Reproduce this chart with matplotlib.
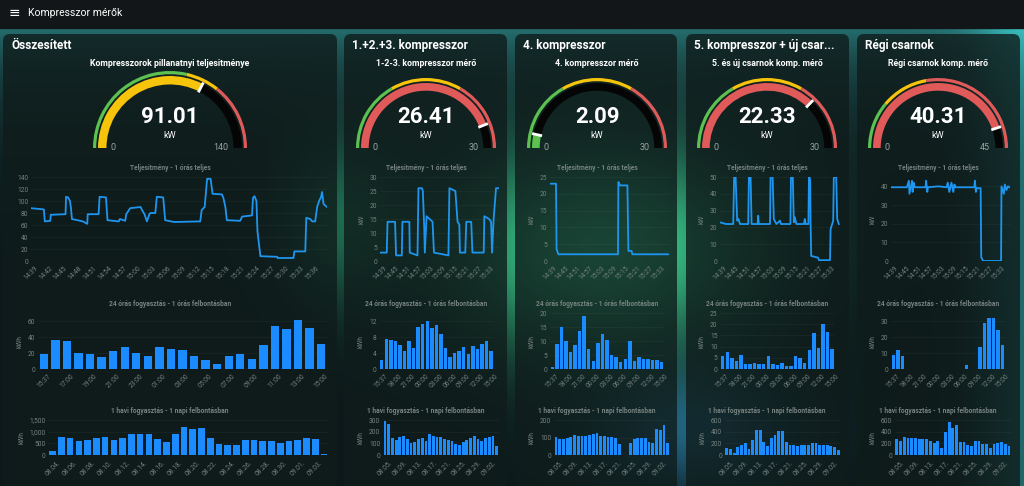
import numpy as np
import matplotlib.pyplot as plt
from matplotlib.patches import Wedge, FancyBboxPatch, Rectangle

plt.rcParams['font.family'] = ['Roboto', 'DejaVu Sans']

W, H = 1024, 486

# ---------------- data ----------------
page_title = 'Kompresszor mérők'
card_titles = ['Összesített', '1.+2.+3. kompresszor', '4. kompresszor',
               '5. kompresszor + új csar...', 'Régi csarnok']
gauge_titles = ['Kompresszorok pillanatnyi teljesitménye', '1-2-3. kompresszor mérő',
                '4. kompresszor mérő', '5. és új csarnok komp. mérő', 'Régi csarnok komp. mérő']
gauge_values = [91.01, 26.41, 2.09, 22.33, 40.31]
gauge_max = [140, 30, 30, 30, 45]
gauge_green_to = [80, 10, 10, 10, 10]
gauge_yellow_to = [100, 20, 20, 20, 20]

line_title = 'Teljesitmény - 1 órás teljes'
day_title = '24 órás fogyasztás - 1 órás felbontásban'
month_title = '1 havi fogyasztás - 1 napi felbontásban'

# power, last hour (minutes after 14:39, kW)
p1_t = [0, 2.6, 2.8, 3.9, 4.0, 7.0, 7.1, 7.5, 7.9, 8.1, 8.3, 10.5, 11.4, 11.5, 13.7, 13.9, 15.2,
        15.5, 17.8, 18.0, 19.1, 19.3, 20.1, 22.2, 22.5, 23.0, 23.5, 24.0, 24.2, 25.2, 25.5, 26.8,
        27.2, 29.0, 34.3, 34.6, 35.2, 35.7, 36.4, 36.8, 38.7, 39.0, 39.4, 39.7, 42.4, 42.8, 44.8,
        45.0, 45.3, 45.7, 45.9, 46.5, 49.9, 50.0, 53.2, 53.4, 55.6, 55.8, 56.6, 57.0, 57.6, 58.0,
        58.4, 58.8, 59.0, 59.3, 60.0]
p1_v = [88, 86, 66, 67, 77, 78, 107, 106, 100, 88, 70, 66, 62, 78, 78, 107, 106,
        68, 66, 70, 67, 78, 88, 90, 85, 78, 66, 78, 80, 80, 107, 106,
        68, 65, 66, 85, 90, 137, 137, 112, 111, 105, 90, 68, 67, 74, 76,
        105, 108, 100, 50, 8, 7, 5, 5, 16, 16, 72, 70, 66, 66, 90,
        100, 107, 115, 95, 90]
p2_t = [0, 3.4, 3.8, 7.6, 8.1, 11.0, 11.3, 14.8, 15.0, 18.9, 19.4, 21.1, 21.6, 22.3, 22.6, 23.5,
        25.0, 26.5, 27.2, 34.5, 35.0, 38.0, 39.1, 40.0, 40.3, 43.0, 43.5, 46.0, 46.6, 52.3, 52.6,
        55.0, 56.0, 56.5, 57.3, 58.5, 60.0]
p2_v = [3, 3, 14, 14, 2, 2, 14, 14, 3, 2, 26, 26, 25, 12, 3, 16,
        15, 14, 3, 2, 26, 25, 14, 13, 3, 3, 14, 14, 3, 3, 16,
        15, 14, 3, 15, 26, 26]
p3_t = [0, 3.0, 3.3, 4.2, 34.0, 34.2, 35.0, 38.7, 39.2, 40.8, 41.2, 59.0]
p3_v = [23, 23, 3.5, 2, 2, 23.5, 22.5, 22.5, 3, 3, 2, 2]
p4_t = [0, 3, 6.6, 7.1, 7.8, 8.6, 9.2, 10, 14.1, 14.5, 15.3, 15.8, 18.8, 19.1, 19.4, 25.0, 25.3,
        26.3, 26.9, 28.2, 30.0, 30.5, 35.2, 35.5, 36.4, 36.9, 37.4, 38.2, 42.0, 42.4, 42.8, 44.2,
        44.5, 45.1, 45.3, 45.6, 49.0, 49.5, 55.0, 55.3, 56.6, 56.9, 58.1, 58.6, 59.4]
p4_v = [23, 22, 22, 53, 50, 24, 25, 22, 22, 53, 50, 22, 22, 27, 22, 22, 52,
        50, 25, 22, 24, 22, 22, 51, 50, 23, 26, 22, 22, 25, 22, 22,
        52, 48, 22, 3, 2, 0.5, 0.5, 19, 24, 50, 50, 25, 22]
p5_t = [0, 8, 9.0, 9.3, 10.6, 10.9, 11.4, 12, 17.4, 17.7, 18.3, 18.6, 24, 28, 28.6, 29.4, 30.5,
        31.4, 32, 32.5, 42, 42.3, 42.8, 43.2, 45.2, 45.5, 46.5, 55.5, 55.7, 56.9, 57.4, 58.2,
        59.0, 59.9]
p5_v = [39.5, 39.5, 43, 36, 43, 37, 42, 39.5, 39.5, 43, 37, 39.5, 40, 39.5, 42, 37, 42,
        37, 41, 39.5, 39.5, 43, 37, 39, 39, 2, 0, 0, 40, 36, 41, 38,
        40, 39.5]

# 24 hour consumption (kWh)
d1 = [18.2, 36.4, 35.6, 20.3, 18.2, 15.3, 22.8, 27.3, 19.9, 16.1, 26.9, 25.2, 23.2, 16.5, 11.2,
      6.6, 16.5, 19.0, 12.0, 30.2, 53.8, 49.6, 61.2, 51.3, 31.0]
d2 = [2.3, 7.5, 7.3, 6.9, 5.9, 4.6, 6.9, 5.2, 10.6, 11.2, 12.0, 10.3, 11.0, 8.7, 5.2,
      3.0, 4.1, 4.6, 5.6, 3.8, 5.8, 5.0, 6.3, 6.9, 4.4]
d3 = [0.8, 8.9, 15.1, 10.0, 5.9, 8.6, 13.5, 18.8, 7.1, 2.9, 9.4, 12.6, 10.4, 4.9, 4.2,
      2.6, 3.6, 10.0, 2.9, 4.4, 3.4, 3.4, 3.1, 3.1, 2.4]
d4 = [6.0, 7.6, 4.9, 3.4, 6.3, 2.2, 2.2, 2.9, 2.2, 2.2, 5.9, 2.4, 1.8, 2.6, 1.5,
      1.5, 6.0, 4.7, 2.9, 8.5, 15.9, 9.3, 20.0, 16.3, 9.0]
d5 = [8.9, 11.8, 8.3, 0, 0, 0, 0, 0, 0, 0, 0, 0, 0, 0, 0,
      0, 2.5, 0, 0, 13.7, 29.0, 31.7, 31.7, 24.4, 15.1]
day_labels_1 = ['15:37', '17:00', '19:00', '21:00', '23:00', '01:00', '03:00', '05:00',
                '07:00', '09:00', '11:00', '13:00', '15:00']
day_labels = ['15:37', '18:00', '21:00', '00:00', '03:00', '06:00', '09:00', '12:00', '15:00']

# 1 month consumption (kWh / day)
m1 = [184, 778, 708, 608, 637, 736, 778, 637, 708, 892, 906, 892, 693, 566, 892, 1203,
      1104, 1160, 708, 467, 439, 425, 637, 637, 594, 608, 509, 580, 651, 722, 679, 28]
m2 = [291, 269, 150, 127, 158, 164, 133, 99, 113, 133, 144, 122, 181, 161, 156, 156,
      133, 125, 116, 96, 82, 113, 130, 150, 161, 136, 119, 150, 156, 167, 79]
m3 = [104, 94, 91, 100, 102, 115, 106, 109, 108, 113, 119, 128, 111, 109, 104, 102,
      96, 62, 2, 2, 70, 89, 100, 100, 98, 75, 68, 147, 143, 172, 68]
m4 = [113, 102, 34, 142, 164, 204, 96, 249, 430, 436, 215, 153, 283, 351, 413, 407,
      226, 164, 175, 153, 170, 170, 170, 204, 198, 175, 170, 164, 153, 130, 91]
m5 = [272, 243, 311, 289, 294, 294, 272, 266, 266, 232, 204, 232, 125, 402, 572, 470,
      515, 226, 221, 175, 147, 243, 238, 187, 192, 113, 192, 209, 226, 187, 147]
month_labels_1 = ['08.04.', '08.06.', '08.08.', '08.10.', '08.12.', '08.14.', '08.16.', '08.18.',
                  '08.20.', '08.22.', '08.24.', '08.26.', '08.28.', '08.30.', '09.01.', '09.03.']
month_labels = ['08.05.', '08.09.', '08.13.', '08.17.', '08.21.', '08.25.', '08.29.', '09.02.']

# ---------------- style ----------------
GREEN, YELLOW, RED = '#5cc150', '#f7c40c', '#e05a5a'
LINE_C, BAR_C = '#1e96f0', '#1a8cff'
TICK_C = '#76827f'

fig = plt.figure(figsize=(W / 100, H / 100), dpi=100)
base = fig.add_axes([0, 0, 1, 1])
base.set_xlim(0, W)
base.set_ylim(0, H)
base.axis('off')

# background glow
yy, xx = np.mgrid[0:H:4, 0:W:4].astype(float)
img = np.zeros(yy.shape + (3,))
img += np.array([12, 24, 25]) / 255
img += np.exp(-np.clip(yy - 28, 0, None) / 60)[..., None] * np.array([25, 85, 85]) / 255
img += (np.exp(-((xx - 600) / 150) ** 2 - ((yy - 250) / 100) ** 2))[..., None] * np.array([50, 195, 125]) / 255
img += (np.exp(-((xx - 340) / 60) ** 2 - ((yy - 220) / 80) ** 2))[..., None] * np.array([15, 70, 45]) / 255
img += (np.exp(-((xx - 690) / 100) ** 2 - ((yy - 430) / 60) ** 2))[..., None] * np.array([20, 70, 100]) / 255
img += (np.exp(-((xx - 1024) / 50) ** 2))[..., None] * np.array([20, 80, 80]) / 255
base.imshow(np.clip(img, 0, 1), extent=(0, W, 0, H), origin='upper', aspect='auto',
            interpolation='bilinear', zorder=0)

# header
base.add_patch(Rectangle((0, H - 28), W, 28, color='#121618', zorder=1))
base.text(9, H - 13, '≡', color='white', fontsize=10, va='center', ha='left',
          family=['DejaVu Sans'], zorder=2)
base.text(28, H - 13, page_title, color='white', fontsize=7.5, va='center', ha='left', zorder=2)

cards = [(3, 337), (344, 507), (515, 677), (686, 849), (857, 1020)]
for (x0, x1), title in zip(cards, card_titles):
    base.add_patch(FancyBboxPatch((x0, -20), x1 - x0, H - 34 + 20,
                                  boxstyle='round,pad=0,rounding_size=7',
                                  fc='#0f1c1b', ec='none', alpha=0.8, zorder=1))
    base.text(x0 + 8, H - 46, title, color='white', fontsize=8.5, fontweight='bold',
              va='center', ha='left', zorder=3)


def gauge(cx, cy, r, vmax, value, g_to, y_to, title):
    Y = H - cy

    def ang(v):
        return 180 - 180 * v / vmax

    ring_w = 3.2
    for a, b, c in [(0, g_to, GREEN), (g_to, y_to, YELLOW), (y_to, vmax, RED)]:
        base.add_patch(Wedge((cx, Y), r, ang(b), ang(a), width=ring_w, fc=c, ec='none', zorder=3))
    br = r - ring_w - 1.8
    bw = r * 0.11
    fill = GREEN if value < g_to else (YELLOW if value < y_to else RED)
    base.add_patch(Wedge((cx, Y), br, ang(value), 180, width=bw, fc=fill, ec='none', zorder=3))
    base.add_patch(Wedge((cx, Y), br, 0, ang(value), width=bw, fc='#050505', ec='none', zorder=3))
    th = np.radians(ang(value))
    r0, r1 = br - bw - 1, br + 1.5
    base.plot([cx + r0 * np.cos(th), cx + r1 * np.cos(th)],
              [Y + r0 * np.sin(th), Y + r1 * np.sin(th)],
              color='white', lw=2, solid_capstyle='butt', zorder=4)
    inner = br - bw
    base.text(cx, Y + 31, f'{value:.2f}', color='white', fontsize=16, fontweight='bold',
              ha='center', va='center', zorder=4)
    base.text(cx, Y + 13, 'kW', color='white', fontsize=6.5, ha='center', va='center', zorder=4)
    base.text(cx - inner + 4, Y + 1, '0', color='#9aa3a1', fontsize=6.5, ha='left', va='center', zorder=4)
    base.text(cx + inner - 5, Y + 1, str(vmax), color='#9aa3a1', fontsize=6.5, ha='right',
              va='center', zorder=4)
    base.text(cx, H - 64, title, color='white', fontsize=6.3, fontweight='bold',
              ha='center', va='center', zorder=4)


gauge_cx = [170, 426, 597, 767, 938]
gauge_r = [77, 70, 70, 70, 70]
for i in range(5):
    gauge(gauge_cx[i], 148, gauge_r[i], gauge_max[i], gauge_values[i],
          gauge_green_to[i], gauge_yellow_to[i], gauge_titles[i])


def add_ax(x0, x1, y0, y1):
    ax = fig.add_axes([x0 / W, 1 - y1 / H, (x1 - x0) / W, (y1 - y0) / H])
    ax.set_facecolor('none')
    for s in ax.spines.values():
        s.set_visible(False)
    ax.tick_params(length=0, labelsize=4.8, colors=TICK_C, pad=2)
    ax.tick_params(axis='x', pad=3)
    ax.grid(axis='y', color='white', alpha=0.05, lw=0.5)
    ax.set_axisbelow(True)
    return ax


def chart_title(cx, y, text):
    base.text(cx, H - y, text, color=TICK_C, fontsize=4.8, fontweight='bold',
              ha='center', va='center', zorder=4)


def ylab(ax, text):
    ax.set_ylabel(text, color=TICK_C, fontsize=4.8, labelpad=3)


def xlabels(ax, pos, labels):
    ax.set_xticks(pos)
    ax.set_xticklabels(labels, rotation=45, ha='center', va='top')


# line charts
line_x = [(31, 327), (380, 499), (550, 670), (720, 840), (891, 1010)]
lines = [(p1_t, p1_v), (p2_t, p2_v), (p3_t, p3_v), (p4_t, p4_v), (p5_t, p5_v)]
line_ylim = [140, 30, 25, 50, 45]
line_ticks = [np.arange(0, 141, 20), np.arange(0, 31, 5), np.arange(0, 26, 5),
              np.arange(0, 51, 10), np.arange(0, 41, 10)]
for i in range(5):
    ax = add_ax(line_x[i][0], line_x[i][1], 177, 261)
    t, v = lines[i]
    ax.plot(t, v, color=LINE_C, lw=1.3, solid_joinstyle='round')
    ax.set_xlim(0, 60)
    ax.set_ylim(0, line_ylim[i])
    ax.set_yticks(line_ticks[i])
    step = 3 if i == 0 else 6
    ticks = np.arange(0, 58, step)
    xlabels(ax, ticks, [f'{14 + (39 + m) // 60}:{(39 + m) % 60:02d}' for m in ticks])
    if i > 0:
        ylab(ax, 'kW')
    chart_title(gauge_cx[i], 168, line_title)

# 24 hour bar charts
day_x = [(38, 327), (379.4, 493.3), (550, 664), (720.4, 834.3), (891, 1005)]
days = [d1, d2, d3, d4, d5]
day_ylim = [70, 14, 20, 25, 35]
day_ticks = [[0, 20, 40, 60], [0, 4, 8, 12], [0, 5, 10, 15, 20], [0, 5, 10, 15, 20, 25],
             [0, 10, 20, 30]]
for i in range(5):
    ax = add_ax(day_x[i][0], day_x[i][1], 313, 369)
    n = len(days[i])
    ax.bar(np.arange(n), days[i], width=0.72 if i == 0 else 0.76, color=BAR_C)
    ax.set_xlim(-0.5, n - 0.5)
    ax.set_ylim(0, day_ylim[i])
    ax.set_yticks(day_ticks[i])
    if i == 0:
        xlabels(ax, np.arange(0, 25, 2), day_labels_1)
    else:
        xlabels(ax, np.arange(0, 25, 3), day_labels)
    ylab(ax, 'kWh')
    chart_title(gauge_cx[i], 304, day_title)

# monthly bar charts
month_x = [(48.3, 328.4), (383.1, 498.5), (554.1, 669.5), (724.8, 840.2), (894.8, 1010.9)]
months = [m1, m2, m3, m4, m5]
month_ylim = [1500, 300, 200, 600, 600]
month_ticks = [[0, 500, 1000, 1500], [0, 100, 200, 300], [0, 100, 200], [0, 200, 400, 600],
               [0, 200, 400, 600]]
for i in range(5):
    ax = add_ax(month_x[i][0], month_x[i][1], 420, 455)
    n = len(months[i])
    ax.bar(np.arange(n), months[i], width=0.75, color=BAR_C)
    ax.set_xlim(-0.5, n - 0.5)
    ax.set_ylim(0, month_ylim[i])
    ax.set_yticks(month_ticks[i])
    ax.set_yticklabels([f'{v:,}' for v in month_ticks[i]])
    if i == 0:
        xlabels(ax, np.arange(0, 31, 2), month_labels_1)
    else:
        xlabels(ax, np.arange(0, 29, 4), month_labels)
    ylab(ax, 'kWh')
    chart_title(gauge_cx[i], 411, month_title)

fig.savefig('out.png', dpi=100)
